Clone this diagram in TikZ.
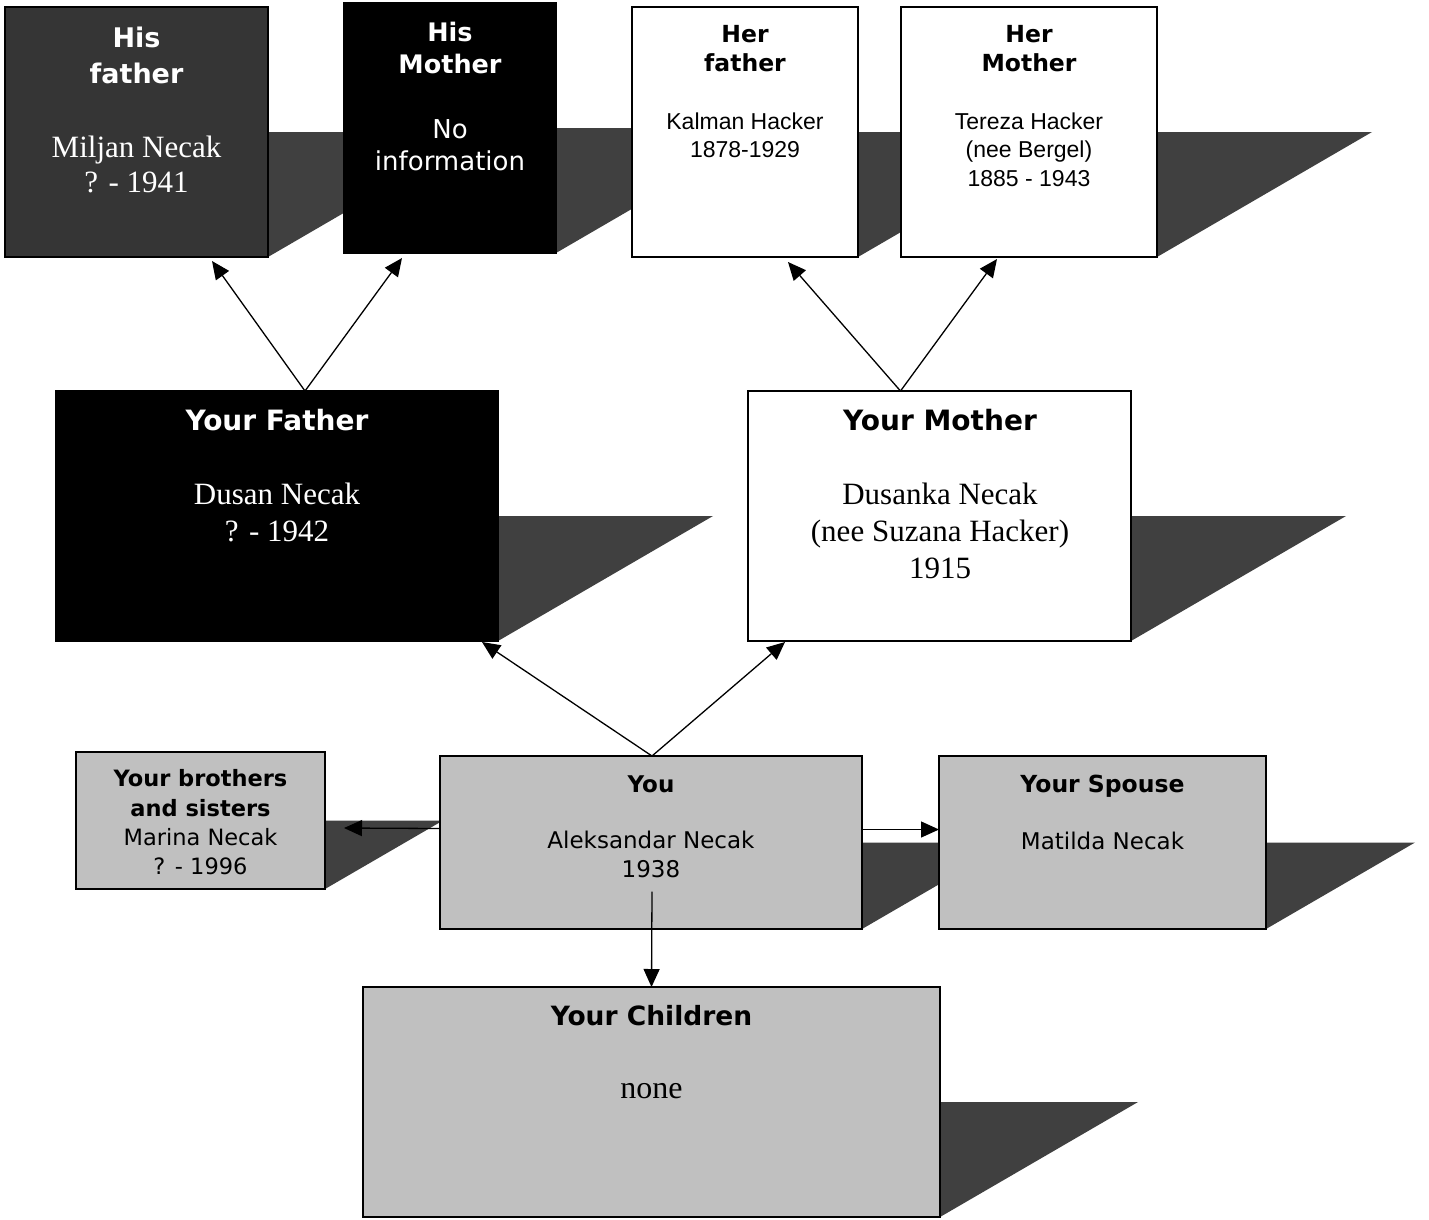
\documentclass[tikz,border=0pt]{standalone}
\usepackage{fontspec}
\setmainfont{Liberation Serif}
\newfontfamily\dvs{DejaVu Sans}
\newfontfamily\lsans{Liberation Sans}
\usetikzlibrary{calc,arrows.meta}
\definecolor{shadowc}{HTML}{404040}
\definecolor{boxgray}{HTML}{C0C0C0}
\definecolor{darkbox}{HTML}{353535}
\pgfdeclarelayer{bg}
\pgfsetlayers{bg,main}
\tikzset{
  box/.style={draw=black, line width=1.5pt, inner sep=0pt, outer sep=0pt, rectangle},
  arr/.style={line width=1.3pt, -{Triangle[length=18pt,width=16pt]}},
  sh/.style={fill=shadowc},
  tl/.style={anchor=base, inner sep=0pt, outer sep=0pt},
}
\newcommand\boxat[6]{%
  \node[box, fill=#6, minimum width={#4-#2}, minimum height={#5-#3}] (#1) at ({(#2+#4)/2},{(#3+#5)/2}) {};}
\newcommand\shad[2]{%
  \begin{pgfonlayer}{bg}
  \fill[sh] ($(#1.north east)!0.5!(#1.south east)$) -- ++(#2,0) -- (#1.south east) -- cycle;
  \end{pgfonlayer}}
\newcommand\tline[5]{% name, x, y, font, text
  \node[tl, font=#4] (#1) at (#2,#3) {#5};}
\newcommand\tb[1]{\fontsize{#1}{#1}\selectfont\dvs\bfseries}
\newcommand\tsr[1]{\fontsize{#1}{#1}\selectfont}
\newcommand\tdv[1]{\fontsize{#1}{#1}\selectfont\dvs}
\newcommand\tls[1]{\fontsize{#1}{#1}\selectfont\lsans}
\begin{document}
\begin{tikzpicture}[x=1pt,y=-1pt]
\useasboundingbox (0,0) rectangle (1429,1219);
\begin{pgfonlayer}{bg}
\fill[white] (0,0) rectangle (1429,1219);
\end{pgfonlayer}
% boxes
\boxat{hf}{5}{7}{268}{257}{darkbox}
\boxat{hm}{344}{3}{556}{253}{black}
\boxat{herf}{632}{7}{858}{257}{white}
\boxat{herm}{901}{7}{1157}{257}{white}
\boxat{yf}{56}{391}{498}{641}{black}
\boxat{ym}{748}{391}{1131}{641}{white}
\boxat{bs}{76}{752}{325}{889}{boxgray}
\boxat{you}{440}{756}{862}{929}{boxgray}
\boxat{sp}{939}{756}{1266}{929}{boxgray}
\boxat{ch}{363}{987}{940}{1217}{boxgray}
% shadows
\shad{hf}{215}
\shad{hm}{215}
\shad{herf}{215}
\shad{herm}{215}
\shad{yf}{215}
\shad{ym}{215}
\shad{bs}{118}
\shad{you}{149}
\shad{sp}{149}
\shad{ch}{198}
% texts
\tline{hf-t1}{136.5}{47}{\tb{27}\color{white}}{His}
\tline{hf-t2}{136.5}{83}{\tb{27}\color{white}}{father}
\tline{hf-t3}{136.5}{157}{\tsr{31}\color{white}}{Miljan Necak}
\tline{hf-t4}{136.5}{192}{\tsr{31}\color{white}}{? - 1941}
\tline{hm-t1}{450}{41}{\tb{25.5}\color{white}}{His}
\tline{hm-t2}{450}{73}{\tb{25.5}\color{white}}{Mother}
\tline{hm-t3}{450}{138}{\tdv{26}\color{white}}{No}
\tline{hm-t4}{450}{170}{\tdv{26}\color{white}}{information}
\tline{herf-t1}{745}{42}{\tb{23.5}}{Her}
\tline{herf-t2}{745}{71}{\tb{23.5}}{father}
\tline{herf-t3}{745}{129}{\tls{23}}{Kalman Hacker}
\tline{herf-t4}{745}{157}{\tls{23}}{1878-1929}
\tline{herm-t1}{1029}{42}{\tb{23.5}}{Her}
\tline{herm-t2}{1029}{71}{\tb{23.5}}{Mother}
\tline{herm-t3}{1029}{129}{\tls{23}}{Tereza Hacker}
\tline{herm-t4}{1029}{157}{\tls{23}}{(nee Bergel)}
\tline{herm-t5}{1029}{186}{\tls{23}}{1885 - 1943}
\tline{yf-t1}{277}{430}{\tb{28}\color{white}}{Your Father}
\tline{yf-t2}{277}{504}{\tsr{31}\color{white}}{Dusan Necak}
\tline{yf-t3}{277}{541}{\tsr{31}\color{white}}{? - 1942}
\tline{ym-t1}{940}{430}{\tb{28}}{Your Mother}
\tline{ym-t2}{940}{504}{\tsr{31}}{Dusanka Necak}
\tline{ym-t3}{940}{541}{\tsr{31}}{(nee Suzana Hacker)}
\tline{ym-t4}{940}{578}{\tsr{31}}{1915}
\tline{bs-t1}{200.5}{786}{\tb{22.5}}{Your brothers}
\tline{bs-t2}{200.5}{816}{\tb{22.5}}{and sisters}
\tline{bs-t3}{200.5}{845}{\tdv{22.5}}{Marina Necak}
\tline{bs-t4}{200.5}{874}{\tdv{22.5}}{? - 1996}
\tline{you-t1}{651}{792}{\tb{23}}{You}
\tline{you-t2}{651}{848}{\tdv{23}}{Aleksandar Necak}
\tline{you-t3}{651}{877}{\tdv{23}}{1938}
\tline{sp-t1}{1102.5}{792}{\tb{23.5}}{Your Spouse}
\tline{sp-t2}{1102.5}{849}{\tdv{23}}{Matilda Necak}
\tline{ch-t1}{651.5}{1025}{\tb{26.5}}{Your Children}
\tline{ch-t2}{651.5}{1098}{\tsr{32}}{none}
% connectors
\draw[arr] ($(yf.north)+(28,0)$) -- ($(hf.south)+(75.5,4)$);
\draw[arr] ($(yf.north)+(28,0)$) -- ($(hm.south)+(-48,5)$);
\draw[arr] ($(ym.north)+(-39,0)$) -- ($(herf.south)+(43,5)$);
\draw[arr] ($(ym.north)+(-39,0)$) -- ($(herm.south)+(-32,2)$);
\draw[arr] ($(you.north)+(1,0)$) -- ($(yf.south east)+(-16,1)$);
\draw[arr] ($(you.north)+(1,0)$) -- ($(ym.south west)+(37,1)$);
\draw[arr] ($(you.west)+(0,-14)$) -- ($(bs.east)+(19,7.5)$);
\draw[arr] ($(you.east)+(0,-13)$) -- ($(sp.west)+(0,-13)$);
\draw[arr] ($(you.center)+(1,49)$) -- (ch.north);
\end{tikzpicture}
\end{document}
